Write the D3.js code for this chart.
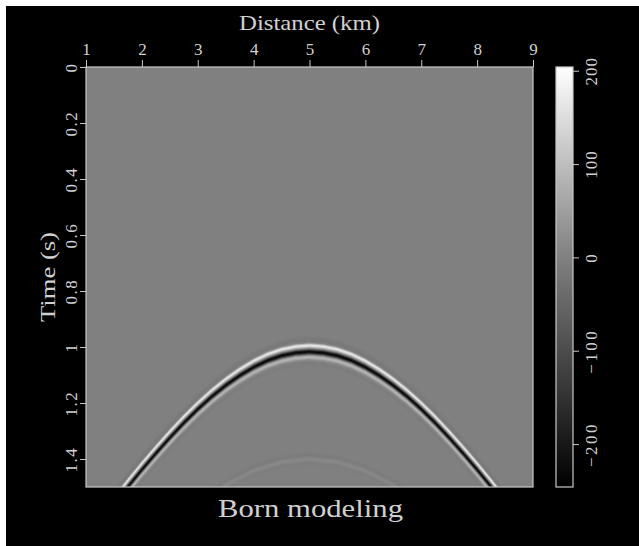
<!DOCTYPE html>
<html>
<head>
<meta charset="utf-8">
<script src="https://cdn.jsdelivr.net/npm/d3@7"></script>
<style>
  html, body { margin: 0; padding: 0; background: #fff; }
  svg { display: block; }
  text { font-family: "Liberation Serif", "DejaVu Serif", serif; fill: #d0d0d0; }
</style>
</head>
<body>
<svg id="chart" width="639" height="546"></svg>
<script>
// axis ticks
const distTicks = [1, 2, 3, 4, 5, 6, 7, 8, 9];
const timeTicks = [0, 0.2, 0.4, 0.6, 0.8, 1, 1.2, 1.4];
const ampTicks = [-200, -100, 0, 100, 200];
const ampRange = [-246, 204];

// picked traveltime of the main reflection (km, s)
const eventDist = [1, 1.25, 1.5, 1.75, 2, 2.25, 2.5, 2.75, 3, 3.25, 3.5, 3.75, 4, 4.25, 4.5, 4.75,
  5, 5.25, 5.5, 5.75, 6, 6.25, 6.5, 6.75, 7, 7.25, 7.5, 7.75, 8, 8.25, 8.5, 8.75, 9];
const eventTime = [1.695, 1.628, 1.563, 1.499, 1.438, 1.380, 1.324, 1.271, 1.222, 1.177, 1.137, 1.102, 1.072, 1.048, 1.031, 1.021,
  1.017, 1.021, 1.031, 1.048, 1.072, 1.102, 1.137, 1.177, 1.222, 1.271, 1.324, 1.380, 1.438, 1.499, 1.563, 1.628, 1.695];

// faint deeper event
const faintDist = [2.5, 3, 3.5, 4, 4.5, 5, 5.5, 6, 6.5, 7, 7.5];
const faintTime = [1.644, 1.561, 1.493, 1.442, 1.411, 1.400, 1.411, 1.442, 1.493, 1.561, 1.644];

// wavelet around the event (lag in ms, amplitude)
const waveLag = [-60, -46, -38, -32, -28, -24, -20, -16, -12, -8, -4, 0, 4, 8, 12, 16, 20, 24, 28, 34, 42, 55];
const waveAmp = [0, -12, -14, 10, 90, 165, 150, 80, 10, -80, -190, -235, -190, -90, 10, 70, 85, 60, 25, 0, -8, 0];
const faintLag = [-30, -14, -6, 0, 6, 14, 30];
const faintAmp = [0, -9, 4, 16, 4, -5, 0];

const svg = d3.select("#chart");
const margin = { top: 67, left: 86, right: 106, bottom: 59 };
const W = 639, H = 546;
const plotW = W - margin.left - margin.right;   // 447
const plotH = H - margin.top - margin.bottom;   // 420

const x = d3.scaleLinear().domain([1, 9]).range([margin.left, margin.left + plotW]);
const y = d3.scaleLinear().domain([0, 1.5]).range([margin.top, margin.top + plotH]);
const cb = d3.scaleLinear().domain(ampRange).range([margin.top + plotH, margin.top]);
const grey = d3.scaleLinear().domain([ampRange[0], 0, ampRange[1]])
  .range(["#000000", "#808080", "#ffffff"]).clamp(true);

// background
svg.append("rect").attr("width", W).attr("height", H).attr("fill", "#fff");
svg.append("rect").attr("x", 6).attr("y", 6).attr("width", W - 6).attr("height", H - 6).attr("fill", "#000");

// raster of the gather
const tMain = d3.scaleLinear().domain(eventDist).range(eventTime);
const tFaint = d3.scaleLinear().domain(faintDist).range(faintTime);
const wave = d3.scaleLinear().domain(waveLag).range(waveAmp).clamp(true);
const waveF = d3.scaleLinear().domain(faintLag).range(faintAmp).clamp(true);

const canvas = document.createElement("canvas");
canvas.width = plotW;
canvas.height = plotH;
const ctx = canvas.getContext("2d");
const img = ctx.createImageData(plotW, plotH);
const lut = d3.range(256).map((i) => d3.rgb(grey(ampRange[0] + (i / 255) * (ampRange[1] - ampRange[0]))).r);
for (let i = 0; i < plotW; i++) {
  const d = x.invert(margin.left + i + 0.5);
  const te = tMain(d);
  const tf = tFaint(d);
  for (let j = 0; j < plotH; j++) {
    const t = y.invert(margin.top + j + 0.5);
    const a = wave((t - te) * 1000) + waveF((t - tf) * 1000);
    let k = Math.round((a - ampRange[0]) / (ampRange[1] - ampRange[0]) * 255);
    k = Math.max(0, Math.min(255, k));
    const v = lut[k];
    const p = (j * plotW + i) * 4;
    img.data[p] = v; img.data[p + 1] = v; img.data[p + 2] = v; img.data[p + 3] = 255;
  }
}
ctx.putImageData(img, 0, 0);
svg.append("image")
  .attr("x", margin.left).attr("y", margin.top)
  .attr("width", plotW).attr("height", plotH)
  .attr("href", canvas.toDataURL());

svg.append("rect")
  .attr("x", margin.left).attr("y", margin.top)
  .attr("width", plotW).attr("height", plotH)
  .attr("fill", "none").attr("stroke", "#c8c8c8").attr("stroke-width", 1.2);

// x axis on top
const gx = svg.append("g")
  .attr("transform", `translate(0,${margin.top})`)
  .call(d3.axisTop(x).tickValues(distTicks).tickSize(7).tickPadding(5).tickFormat(d3.format("d")));
gx.select(".domain").remove();
gx.selectAll("line").attr("stroke", "#c8c8c8");
gx.selectAll("text").attr("font-size", 17).attr("fill", "#d0d0d0");

// y axis, labels turned
const gy = svg.append("g")
  .attr("transform", `translate(${margin.left},0)`)
  .call(d3.axisLeft(y).tickValues(timeTicks).tickSize(6).tickFormat((d) => String(d)));
gy.select(".domain").remove();
gy.selectAll("line").attr("stroke", "#c8c8c8");
gy.selectAll("text")
  .attr("x", null).attr("dy", null)
  .attr("text-anchor", "middle")
  .attr("letter-spacing", 1.5)
  .attr("transform", "translate(-9,0) rotate(-90)")
  .attr("font-size", 17).attr("fill", "#d0d0d0");

// axis titles
svg.append("text")
  .attr("x", 309.5).attr("y", 30)
  .attr("text-anchor", "middle").attr("font-size", 21)
  .attr("textLength", 141).attr("lengthAdjust", "spacingAndGlyphs")
  .text("Distance (km)");
svg.append("text")
  .attr("transform", "translate(55,277) rotate(-90)")
  .attr("text-anchor", "middle").attr("font-size", 21)
  .attr("textLength", 90).attr("lengthAdjust", "spacingAndGlyphs")
  .text("Time (s)");
svg.append("text")
  .attr("x", 310.5).attr("y", 516.5)
  .attr("text-anchor", "middle").attr("font-size", 25)
  .attr("textLength", 185).attr("lengthAdjust", "spacingAndGlyphs")
  .text("Born modeling");

// colorbar
const cbX = 556, cbW = 17;
const grad = svg.append("defs").append("linearGradient")
  .attr("id", "cbgrad").attr("x1", 0).attr("y1", 1).attr("x2", 0).attr("y2", 0);
d3.range(0, 1.0001, 0.05).forEach((f) => {
  grad.append("stop").attr("offset", f)
    .attr("stop-color", grey(ampRange[0] + f * (ampRange[1] - ampRange[0])));
});
svg.append("rect")
  .attr("x", cbX).attr("y", margin.top).attr("width", cbW).attr("height", plotH)
  .attr("fill", "url(#cbgrad)").attr("stroke", "#c8c8c8").attr("stroke-width", 1.2);

const gc = svg.append("g")
  .attr("transform", `translate(${cbX + cbW},0)`)
  .call(d3.axisRight(cb).tickValues(ampTicks).tickSize(6));
gc.select(".domain").remove();
gc.selectAll("line").attr("stroke", "#c8c8c8");
gc.selectAll("text")
  .attr("x", null).attr("dy", null)
  .attr("text-anchor", "middle")
  .attr("letter-spacing", (d) => (d < 0 ? 2.5 : 1))
  .attr("transform", "translate(24,0) rotate(-90)")
  .attr("font-size", 17).attr("fill", "#d0d0d0");
</script>
</body>
</html>
